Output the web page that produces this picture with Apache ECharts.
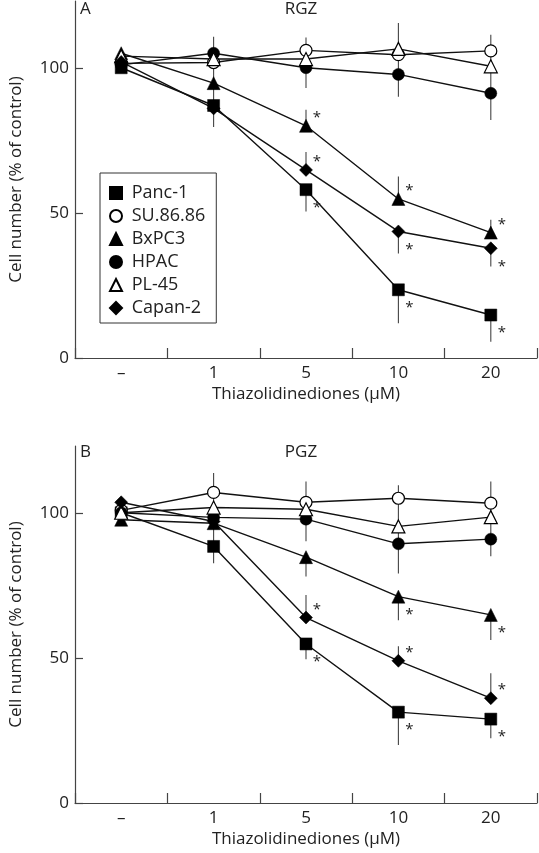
<!DOCTYPE html>
<html>
<head>
<meta charset="utf-8">
<script src="https://cdn.jsdelivr.net/npm/echarts@6/dist/echarts.min.js"></script>
<style>
html,body{margin:0;padding:0;background:#fff;}
#chart{width:539px;height:853px;}
</style>
</head>
<body>
<div id="chart"></div>
<script>
// ---------- data ----------
const categories = ['–', '1', '5', '10', '20'];
const seriesNames = ['Panc-1', 'SU.86.86', 'BxPC3', 'HPAC', 'PL-45', 'Capan-2'];
const yTicks = [0, 50, 100];

// Panel A: RGZ
const rgzPanc1  = [100, 87, 58, 23.5, 14.8];
const rgzSU8686 = [101.5, 101.8, 106, 104.5, 105.8];
const rgzBxPC3  = [105, 94.7, 80, 54.8, 43.2];
const rgzHPAC   = [101, 105, 100, 97.7, 91.2];
const rgzPL45   = [104, 103, 103, 106.5, 100.5];
const rgzCapan2 = [102, 86, 64.8, 43.6, 37.8];
// error bars [category index, low, high]
const rgzErrors = [
  [1, 79.6, 110.7],
  [2, 93, 110.4], [2, 79.8, 85.5], [2, 64.8, 71], [2, 50.5, 57.9],
  [3, 90, 115.4], [3, 54.5, 62.5], [3, 36, 43.6], [3, 12, 23.4],
  [4, 82, 111.4], [4, 43, 47.6], [4, 31.5, 37.8], [4, 5.6, 14.8]
];
// significance marks [series, category index, side]
const rgzStars = [
  ['BxPC3', 2, 'up'], ['Capan-2', 2, 'up'], ['Panc-1', 2, 'down'],
  ['BxPC3', 3, 'up'], ['Capan-2', 3, 'down'], ['Panc-1', 3, 'down'],
  ['BxPC3', 4, 'up'], ['Capan-2', 4, 'down'], ['Panc-1', 4, 'down']
];

// Panel B: PGZ
const pgzPanc1  = [100, 88.4, 54.8, 31.3, 28.9];
const pgzSU8686 = [100.8, 107, 103.6, 105, 103.3];
const pgzBxPC3  = [97.6, 96.4, 84.7, 71.1, 64.8];
const pgzHPAC   = [100, 98.4, 97.8, 89.3, 90.9];
const pgzPL45   = [100, 101.8, 101.2, 95.3, 98.5];
const pgzCapan2 = [103.6, 97, 63.9, 49, 36.1];
const pgzErrors = [
  [1, 82.6, 113.7],
  [2, 90.2, 110.8], [2, 78, 84.7], [2, 63.9, 71.7], [2, 49.5, 54.8],
  [3, 79.1, 109.5], [3, 63, 71.1], [3, 49, 54], [3, 20, 31.3],
  [4, 85, 110.8], [4, 56.2, 64.8], [4, 36.1, 44.7], [4, 22.3, 28.9]
];
const pgzStars = [
  ['Capan-2', 2, 'up'], ['Panc-1', 2, 'down'],
  ['BxPC3', 3, 'down'], ['Capan-2', 3, 'up'], ['Panc-1', 3, 'down'],
  ['BxPC3', 4, 'down'], ['Capan-2', 4, 'up'], ['Panc-1', 4, 'down']
];

const rgzData = {'Panc-1': rgzPanc1, 'SU.86.86': rgzSU8686, 'BxPC3': rgzBxPC3, 'HPAC': rgzHPAC, 'PL-45': rgzPL45, 'Capan-2': rgzCapan2};
const pgzData = {'Panc-1': pgzPanc1, 'SU.86.86': pgzSU8686, 'BxPC3': pgzBxPC3, 'HPAC': pgzHPAC, 'PL-45': pgzPL45, 'Capan-2': pgzCapan2};

// ---------- styles ----------
const FONT = '"Open Sans", Lato, "DejaVu Sans", sans-serif';
const symbolStyle = {
  'Panc-1':   {symbol: 'rect', size: 12, hollow: false},
  'SU.86.86': {symbol: 'circle', size: 12, hollow: true},
  'BxPC3':    {symbol: 'triangle', size: 13, hollow: false},
  'HPAC':     {symbol: 'circle', size: 12, hollow: false},
  'PL-45':    {symbol: 'triangle', size: 13, hollow: true},
  'Capan-2':  {symbol: 'diamond', size: 13, hollow: false}
};

function lineSeries(name, data, idx) {
  const s = symbolStyle[name];
  return {
    name: name, type: 'line', xAxisIndex: idx, yAxisIndex: idx,
    data: data, symbol: s.symbol, symbolSize: s.size, showAllSymbol: true,
    z: 3,
    lineStyle: {color: '#111', width: 1.4},
    itemStyle: {color: s.hollow ? '#fff' : '#000', borderColor: '#000', borderWidth: s.hollow ? 1.2 : 0.5},
    emphasis: {disabled: true}, animation: false
  };
}

function errorSeries(errs, idx) {
  return {
    type: 'custom', xAxisIndex: idx, yAxisIndex: idx, z: 1, silent: true, animation: false,
    data: errs,
    encode: {x: 0, y: [1, 2]},
    renderItem: function (params, api) {
      const x = api.value(0);
      const p1 = api.coord([x, api.value(1)]);
      const p2 = api.coord([x, api.value(2)]);
      return {type: 'line', shape: {x1: p1[0], y1: p1[1], x2: p2[0], y2: p2[1]},
              style: {stroke: '#444', lineWidth: 1.1}};
    }
  };
}

function starSeries(stars, dataMap, idx) {
  const d = stars.map(function (s) { return [s[1], dataMap[s[0]][s[1]], s[2] === 'up' ? 1 : -1]; });
  return {
    type: 'custom', xAxisIndex: idx, yAxisIndex: idx, z: 4, silent: true, animation: false,
    data: d,
    encode: {x: 0, y: 1},
    renderItem: function (params, api) {
      const p = api.coord([api.value(0), api.value(1)]);
      const up = api.value(2) > 0;
      return {type: 'text', x: p[0] + 11, y: p[1] + (up ? -8 : 18),
              style: {text: '*', fontSize: 15, fontFamily: FONT, fill: '#222', align: 'center', verticalAlign: 'middle'}};
    }
  };
}

function xAxis(idx) {
  return {
    type: 'category', gridIndex: idx, data: categories, boundaryGap: true,
    name: 'Thiazolidinediones (μM)', nameLocation: 'middle', nameGap: 28,
    nameTextStyle: {fontSize: 17, fontFamily: FONT, color: '#222'},
    axisLine: {lineStyle: {color: '#444', width: 1.2}},
    axisTick: {show: true, inside: true, length: 10, alignWithLabel: false, lineStyle: {color: '#444', width: 1.2}},
    axisLabel: {fontSize: 17, fontFamily: FONT, color: '#222', margin: 7, interval: 0},
    splitLine: {show: false}
  };
}
function yAxis(idx) {
  return {
    type: 'value', gridIndex: idx, min: 0, max: 123,
    name: 'Cell number (% of control)', nameLocation: 'middle', nameGap: 50,
    nameTextStyle: {fontSize: 17, fontFamily: FONT, color: '#222'},
    axisLine: {show: true, lineStyle: {color: '#444', width: 1.2}},
    axisTick: {show: true, inside: true, length: 8, customValues: yTicks, lineStyle: {color: '#444', width: 1.2}},
    axisLabel: {fontSize: 17, fontFamily: FONT, color: '#222', margin: 6, customValues: yTicks},
    splitLine: {show: false}
  };
}

const series = [];
seriesNames.forEach(function (n) { series.push(lineSeries(n, rgzData[n], 0)); });
seriesNames.forEach(function (n) { series.push(lineSeries(n, pgzData[n], 1)); });
series.push(errorSeries(rgzErrors, 0));
series.push(errorSeries(pgzErrors, 1));
series.push(starSeries(rgzStars, rgzData, 0));
series.push(starSeries(pgzStars, pgzData, 1));

const option = {
  backgroundColor: '#fff',
  animation: false,
  grid: [
    {left: 65, right: 2, top: 1, height: 357, containLabel: false},
    {left: 65, right: 2, top: 446, height: 357, containLabel: false}
  ],
  xAxis: [xAxis(0), xAxis(1)],
  yAxis: [yAxis(0), yAxis(1)],
  legend: {
    orient: 'vertical', left: 100, top: 173,
    data: seriesNames.map(function (n) { return {name: n, icon: symbolStyle[n].symbol}; }),
    formatter: function (n) { return ' ' + n; },
    itemWidth: 12, itemHeight: 12, itemGap: 5, symbolKeepAspect: true,
    padding: [11, 11, 6, 9],
    borderColor: '#333', borderWidth: 1,
    textStyle: {fontSize: 18, fontFamily: FONT, color: '#222', lineHeight: 18},
    selectedMode: false
  },
  graphic: [
    {type: 'text', left: 80, top: 1, style: {text: 'A', fontSize: 17, fontFamily: FONT, fill: '#222'}},
    {type: 'text', x: 301, y: 1, style: {text: 'RGZ', fontSize: 17, fontFamily: FONT, fill: '#222', align: 'center', verticalAlign: 'top'}},
    {type: 'text', left: 80, top: 444, style: {text: 'B', fontSize: 17, fontFamily: FONT, fill: '#222'}},
    {type: 'text', x: 301, y: 444, style: {text: 'PGZ', fontSize: 17, fontFamily: FONT, fill: '#222', align: 'center', verticalAlign: 'top'}}
  ],
  series: series
};

const chart = echarts.init(document.getElementById('chart'), null, {renderer: 'canvas'});
chart.setOption(option);
</script>
</body>
</html>
